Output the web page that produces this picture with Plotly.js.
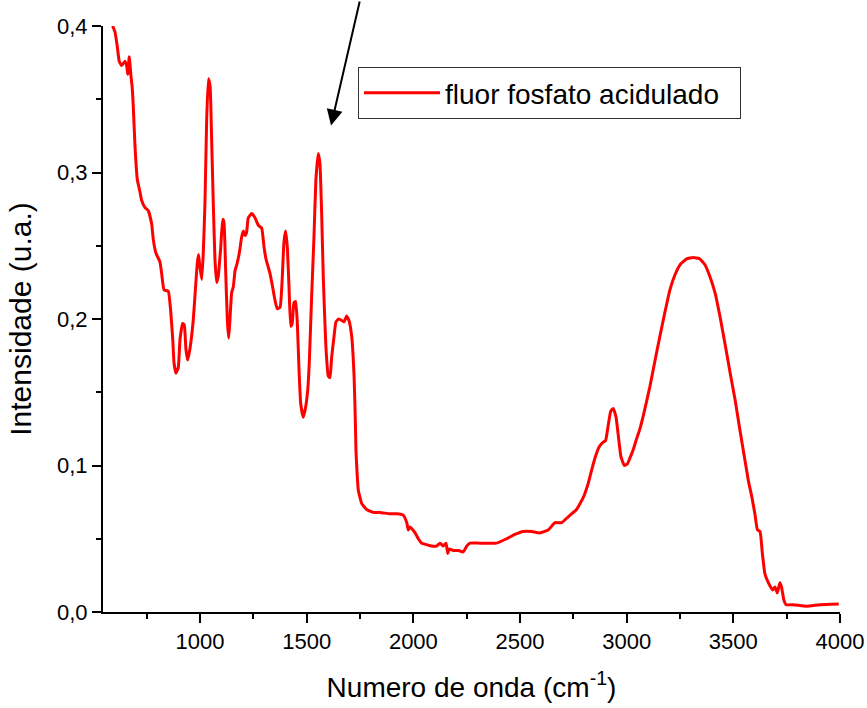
<!DOCTYPE html>
<html>
<head>
<meta charset="utf-8">
<script src="https://cdn.plot.ly/plotly-3.0.1.min.js"></script>
<style>
  html, body { margin: 0; padding: 0; background: #fff; }
  #chart { width: 867px; height: 708px; }
</style>
</head>
<body>
<div id="chart"></div>
<script>
// FTIR spectrum: wavenumber (cm-1) and intensity (a.u.)
const wavenumber = [
  590, 601, 612, 621, 633, 648, 656, 661, 668, 676, 682, 687, 695, 706, 718, 726, 742, 757, 773, 781,
  793, 812, 820, 831, 851, 862, 872, 878, 887, 898, 906, 918, 926, 934, 942, 953, 968, 979, 987, 993,
  999, 1008, 1015, 1023, 1031, 1039, 1047, 1054, 1062, 1070, 1078, 1085, 1097, 1106, 1112, 1120, 1128, 1134, 1140, 1148,
  1156, 1164, 1172, 1184, 1195, 1203, 1211, 1218, 1226, 1242, 1258, 1273, 1289, 1300, 1309, 1328, 1340, 1351, 1362, 1375,
  1385, 1393, 1401, 1409, 1417, 1425, 1432, 1440, 1448, 1456, 1464, 1472, 1484, 1495, 1505, 1512, 1523, 1534, 1543, 1554,
  1562, 1570, 1578, 1590, 1601, 1609, 1617, 1628, 1637, 1650, 1664, 1675, 1687, 1698, 1711, 1722, 1728, 1731, 1736, 1742,
  1758, 1781, 1812, 1843, 1890, 1922, 1953, 1969, 1976, 1984, 1992, 2008, 2023, 2039, 2062, 2085, 2109, 2125, 2140, 2153,
  2161, 2168, 2187, 2211, 2234, 2250, 2265, 2312, 2390, 2437, 2476, 2515, 2554, 2593, 2632, 2664, 2695, 2726, 2765, 2796,
  2820, 2836, 2851, 2872, 2890, 2901, 2914, 2925, 2937, 2950, 2961, 2973, 2989, 3003, 3015, 3031, 3046, 3062, 3078, 3109,
  3140, 3171, 3203, 3226, 3250, 3281, 3312, 3343, 3367, 3390, 3414, 3437, 3461, 3484, 3508, 3531, 3554, 3570, 3586, 3601,
  3613, 3625, 3636, 3648, 3664, 3684, 3695, 3706, 3718, 3726, 3737, 3747, 3781, 3843, 3906, 3994
];
const intensity = [
  0.400, 0.396, 0.386, 0.376, 0.373, 0.376, 0.373, 0.367, 0.379, 0.366, 0.358, 0.345, 0.318, 0.295, 0.287, 0.281, 0.276, 0.274, 0.265, 0.254,
  0.245, 0.239, 0.231, 0.220, 0.219, 0.206, 0.186, 0.170, 0.163, 0.167, 0.186, 0.197, 0.196, 0.179, 0.172, 0.180, 0.199, 0.222, 0.238, 0.244,
  0.236, 0.227, 0.245, 0.279, 0.336, 0.364, 0.359, 0.324, 0.279, 0.240, 0.225, 0.229, 0.249, 0.268, 0.266, 0.233, 0.199, 0.187, 0.199, 0.218,
  0.222, 0.233, 0.237, 0.245, 0.256, 0.260, 0.257, 0.259, 0.269, 0.272, 0.269, 0.264, 0.262, 0.249, 0.241, 0.231, 0.222, 0.213, 0.207, 0.208,
  0.227, 0.252, 0.260, 0.249, 0.222, 0.195, 0.197, 0.211, 0.212, 0.197, 0.165, 0.142, 0.133, 0.140, 0.152, 0.170, 0.215, 0.256, 0.295, 0.313,
  0.306, 0.272, 0.227, 0.181, 0.161, 0.160, 0.174, 0.188, 0.198, 0.200, 0.199, 0.198, 0.202, 0.199, 0.188, 0.161, 0.130, 0.110, 0.095, 0.083,
  0.074, 0.070, 0.068, 0.068, 0.067, 0.067, 0.066, 0.061, 0.056, 0.058, 0.057, 0.054, 0.050, 0.047, 0.046, 0.045, 0.045, 0.047, 0.045, 0.047,
  0.040, 0.043, 0.042, 0.042, 0.041, 0.045, 0.047, 0.047, 0.047, 0.050, 0.053, 0.055, 0.055, 0.054, 0.056, 0.061, 0.061, 0.065, 0.070, 0.078,
  0.088, 0.097, 0.105, 0.113, 0.116, 0.117, 0.128, 0.137, 0.139, 0.133, 0.120, 0.106, 0.100, 0.101, 0.105, 0.111, 0.118, 0.125, 0.134, 0.154,
  0.177, 0.199, 0.220, 0.230, 0.237, 0.241, 0.242, 0.241, 0.237, 0.229, 0.218, 0.202, 0.183, 0.164, 0.145, 0.124, 0.104, 0.090, 0.079, 0.067,
  0.056, 0.055, 0.040, 0.026, 0.020, 0.015, 0.017, 0.013, 0.020, 0.017, 0.008, 0.005, 0.005, 0.004, 0.005, 0.0055
];
const seriesName = 'fluor fosfato acidulado';
const xTicks = [1000, 1500, 2000, 2500, 3000, 3500, 4000];
const yTicks = [0.0, 0.1, 0.2, 0.3, 0.4];

const FONT = 'Liberation Sans, Arial, sans-serif';

const trace = {
  x: wavenumber,
  y: intensity,
  type: 'scatter',
  mode: 'lines',
  name: seriesName,
  line: { color: '#ff0000', width: 3, shape: 'spline', smoothing: 0.4 }
};

const axisCommon = {
  showline: true,
  linecolor: '#000',
  linewidth: 2,
  ticks: 'outside',
  ticklen: 9,
  tickwidth: 2,
  tickcolor: '#000',
  showgrid: false,
  zeroline: false,
  mirror: false,
  tickfont: { family: FONT, size: 22, color: '#000' }
};

const layout = {
  width: 867,
  height: 708,
  margin: { l: 103, r: 27, t: 26, b: 96 },
  paper_bgcolor: '#fff',
  plot_bgcolor: '#fff',
  separators: ', ',
  showlegend: true,
  font: { family: FONT, color: '#000' },
  xaxis: Object.assign({}, axisCommon, {
    range: [545, 4000],
    tickvals: xTicks,
    ticktext: xTicks.map(String),
    minor: { ticks: 'outside', ticklen: 5, tickwidth: 2, tickcolor: '#000', tick0: 750, dtick: 500, showgrid: false },
    title: { text: 'Numero de onda (cm<sup>-1</sup>)', font: { family: FONT, size: 28, color: '#000' }, standoff: 24 }
  }),
  yaxis: Object.assign({}, axisCommon, {
    range: [0, 0.4],
    tickvals: yTicks,
    tickformat: '.1f',
    minor: { ticks: 'outside', ticklen: 5, tickwidth: 2, tickcolor: '#000', tick0: 0.05, dtick: 0.1, showgrid: false },
    title: { text: 'Intensidade (u.a.)', font: { family: FONT, size: 30, color: '#000' }, standoff: 17 }
  }),
  legend: {
    orientation: 'h',
    x: 0.346, y: 0.930, xanchor: 'left', yanchor: 'top',
    bordercolor: '#333', borderwidth: 1, bgcolor: '#fff',
    font: { family: FONT, size: 28, color: '#000' },
    itemwidth: 76,
    entrywidth: 290, entrywidthmode: 'pixels'
  },
  annotations: [{
    xref: 'x', yref: 'y',
    x: 1614, y: 0.332,
    axref: 'pixel', ayref: 'pixel',
    ax: 29, ay: -128,
    showarrow: true,
    arrowhead: 2, arrowsize: 1.6, arrowwidth: 2, arrowcolor: '#000',
    text: ''
  }]
};

Plotly.newPlot('chart', [trace], layout, { displayModeBar: false, staticPlot: true });
</script>
</body>
</html>
